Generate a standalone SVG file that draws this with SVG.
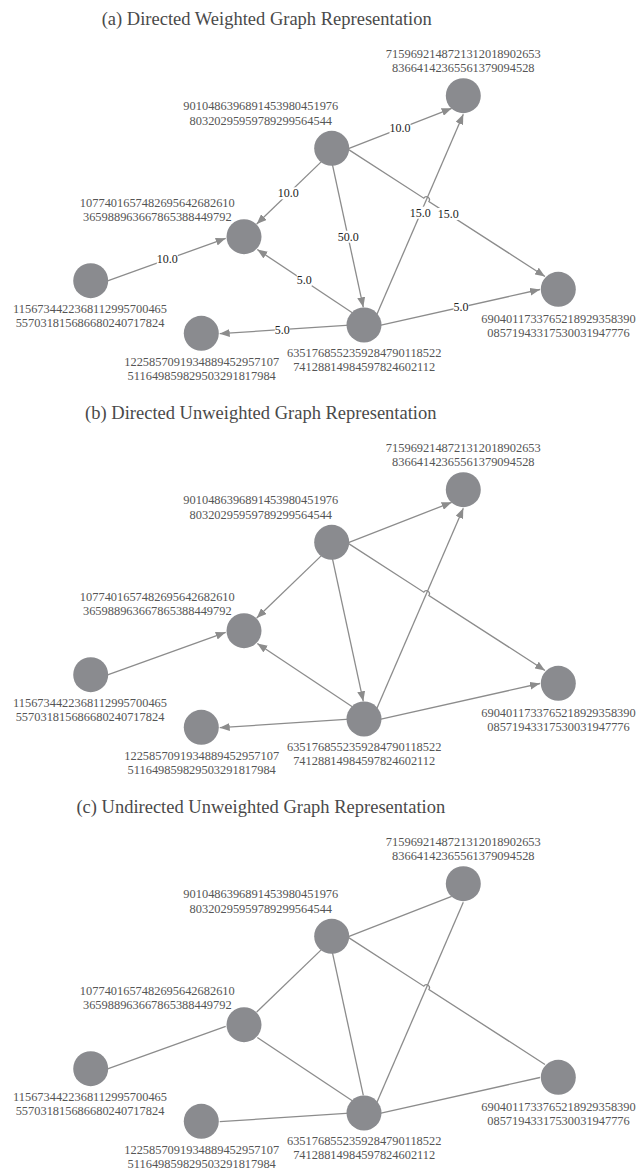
<svg xmlns="http://www.w3.org/2000/svg" width="636" height="1172" viewBox="0 0 636 1172">
<style>
.title{font-family:"Liberation Serif",serif;font-size:18.5px;fill:#4a4a4a;text-anchor:middle}
.lbl{font-family:"Liberation Serif",serif;font-size:12.4px;fill:#555;text-anchor:middle}
.node circle{fill:#8a8b8f}
.edge{stroke:#8c8c8c;stroke-width:1.3;fill:none}
.dir .edge{marker-end:url(#arr)}
.el rect{fill:#fff}
.el text{font-family:"Liberation Serif",serif;font-size:12px;fill:#222;text-anchor:middle}
</style>
<defs>
<marker id="arr" viewBox="0 0 10 8" refX="10" refY="4" markerWidth="10" markerHeight="8" orient="auto" markerUnits="userSpaceOnUse">
<path d="M0,0 L10,4 L0,8 z" fill="#8c8c8c"/>
</marker>
</defs>
<rect width="636" height="1172" fill="#fff"/>

<!-- Panel (a) -->
<g id="panel-a">
<text class="title" x="266.7" y="24.5">(a) Directed Weighted Graph Representation</text>
<g id="a-edges" class="dir">
<path class="edge" d="M346.5,149.4 L451.7,108.3"/>
<path class="edge" d="M322.2,160.9 L256.7,224"/>
<path class="edge" d="M332.1,163.1 L363.3,307.3"/>
<path class="edge" d="M347.5,148.9 L423.8,198.2 A3,3 0 0 1 428.9,201.5 L545,276.5"/>
<path class="edge" d="M376.6,315.1 L463.3,114.3"/>
<path class="edge" d="M105.5,281.7 L225.7,238.3"/>
<path class="edge" d="M352.3,312.7 L257.3,249.5"/>
<path class="edge" d="M349.7,325.1 L219.7,333.7"/>
<path class="edge" d="M378.8,325.7 L540,289.5"/>
<g class="el"><rect x="389.5" y="122.4" width="21" height="12"/><text x="400" y="132.4">10.0</text></g>
<g class="el"><rect x="277.8" y="187.3" width="21" height="12"/><text x="288.3" y="197.3">10.0</text></g>
<g class="el"><rect x="337.7" y="230.7" width="21" height="12"/><text x="348.2" y="240.7">50.0</text></g>
<g class="el"><rect x="437.8" y="208" width="21" height="12"/><text x="448.3" y="218">15.0</text></g>
<g class="el"><rect x="409.8" y="206.7" width="21" height="12"/><text x="420.3" y="216.7">15.0</text></g>
<g class="el"><rect x="156.8" y="253.2" width="21" height="12"/><text x="167.3" y="263.2">10.0</text></g>
<g class="el"><rect x="296.8" y="274.3" width="15" height="12"/><text x="304.3" y="284.3">5.0</text></g>
<g class="el"><rect x="274.8" y="323.5" width="15" height="12"/><text x="282.3" y="333.5">5.0</text></g>
<g class="el"><rect x="453.5" y="301.4" width="15" height="12"/><text x="461" y="311.4">5.0</text></g>
</g>
<g id="a-n1" class="node"><circle cx="331.7" cy="148.3" r="17.5"/><text class="lbl" x="260.8" y="109.5">9010486396891453980451976</text><text class="lbl" x="260.8" y="124.5">80320295959789299564544</text></g>
<g id="a-n2" class="node"><circle cx="244" cy="236.7" r="17.5"/><text class="lbl" x="157.3" y="207">1077401657482695642682610</text><text class="lbl" x="157.3" y="221">365988963667865388449792</text></g>
<g id="a-n3" class="node"><circle cx="463.3" cy="95.7" r="17.5"/><text class="lbl" x="463.3" y="57.5">7159692148721312018902653</text><text class="lbl" x="463.3" y="72">83664142365561379094528</text></g>
<g id="a-n4" class="node"><circle cx="90.7" cy="280.7" r="17.5"/><text class="lbl" x="90" y="312.5">1156734422368112995700465</text><text class="lbl" x="90" y="327">557031815686680240717824</text></g>
<g id="a-n5" class="node"><circle cx="201.3" cy="333.3" r="17.5"/><text class="lbl" x="201.7" y="366">1225857091934889452957107</text><text class="lbl" x="201.7" y="380">511649859829503291817984</text></g>
<g id="a-n6" class="node"><circle cx="364" cy="325" r="17.5"/><text class="lbl" x="364.2" y="357.2">6351768552359284790118522</text><text class="lbl" x="364.2" y="371.2">74128814984597824602112</text></g>
<g id="a-n7" class="node"><circle cx="558.3" cy="289.3" r="17.5"/><text class="lbl" x="558.5" y="322.5">6904011733765218929358390</text><text class="lbl" x="558.5" y="336.8">08571943317530031947776</text></g>
</g>

<!-- Panel (b) -->
<g id="panel-b" transform="translate(0,394)">
<text class="title" x="260.8" y="24.5">(b) Directed Unweighted Graph Representation</text>
<g id="b-edges" class="dir">
<path class="edge" d="M346.5,149.4 L451.7,108.3"/>
<path class="edge" d="M322.2,160.9 L256.7,224"/>
<path class="edge" d="M332.1,163.1 L363.3,307.3"/>
<path class="edge" d="M347.5,148.9 L423.8,198.2 A3,3 0 0 1 428.9,201.5 L545,276.5"/>
<path class="edge" d="M376.6,315.1 L463.3,114.3"/>
<path class="edge" d="M105.5,281.7 L225.7,238.3"/>
<path class="edge" d="M352.3,312.7 L257.3,249.5"/>
<path class="edge" d="M349.7,325.1 L219.7,333.7"/>
<path class="edge" d="M378.8,325.7 L540,289.5"/>
</g>
<g id="b-n1" class="node"><circle cx="331.7" cy="148.3" r="17.5"/><text class="lbl" x="260.8" y="109.5">9010486396891453980451976</text><text class="lbl" x="260.8" y="124.5">80320295959789299564544</text></g>
<g id="b-n2" class="node"><circle cx="244" cy="236.7" r="17.5"/><text class="lbl" x="157.3" y="207">1077401657482695642682610</text><text class="lbl" x="157.3" y="221">365988963667865388449792</text></g>
<g id="b-n3" class="node"><circle cx="463.3" cy="95.7" r="17.5"/><text class="lbl" x="463.3" y="57.5">7159692148721312018902653</text><text class="lbl" x="463.3" y="72">83664142365561379094528</text></g>
<g id="b-n4" class="node"><circle cx="90.7" cy="280.7" r="17.5"/><text class="lbl" x="90" y="312.5">1156734422368112995700465</text><text class="lbl" x="90" y="327">557031815686680240717824</text></g>
<g id="b-n5" class="node"><circle cx="201.3" cy="333.3" r="17.5"/><text class="lbl" x="201.7" y="366">1225857091934889452957107</text><text class="lbl" x="201.7" y="380">511649859829503291817984</text></g>
<g id="b-n6" class="node"><circle cx="364" cy="325" r="17.5"/><text class="lbl" x="364.2" y="357.2">6351768552359284790118522</text><text class="lbl" x="364.2" y="371.2">74128814984597824602112</text></g>
<g id="b-n7" class="node"><circle cx="558.3" cy="289.3" r="17.5"/><text class="lbl" x="558.5" y="322.5">6904011733765218929358390</text><text class="lbl" x="558.5" y="336.8">08571943317530031947776</text></g>
</g>

<!-- Panel (c) -->
<g id="panel-c" transform="translate(0,788)">
<text class="title" x="260.8" y="24.5">(c) Undirected Unweighted Graph Representation</text>
<g id="c-edges">
<path class="edge" d="M346.5,149.4 L451.7,108.3"/>
<path class="edge" d="M322.2,160.9 L256.7,224"/>
<path class="edge" d="M332.1,163.1 L363.3,307.3"/>
<path class="edge" d="M347.5,148.9 L423.8,198.2 A3,3 0 0 1 428.9,201.5 L545,276.5"/>
<path class="edge" d="M376.6,315.1 L463.3,114.3"/>
<path class="edge" d="M105.5,281.7 L225.7,238.3"/>
<path class="edge" d="M352.3,312.7 L257.3,249.5"/>
<path class="edge" d="M349.7,325.1 L219.7,333.7"/>
<path class="edge" d="M378.8,325.7 L540,289.5"/>
</g>
<g id="c-n1" class="node"><circle cx="331.7" cy="148.3" r="17.5"/><text class="lbl" x="260.8" y="109.5">9010486396891453980451976</text><text class="lbl" x="260.8" y="124.5">80320295959789299564544</text></g>
<g id="c-n2" class="node"><circle cx="244" cy="236.7" r="17.5"/><text class="lbl" x="157.3" y="207">1077401657482695642682610</text><text class="lbl" x="157.3" y="221">365988963667865388449792</text></g>
<g id="c-n3" class="node"><circle cx="463.3" cy="95.7" r="17.5"/><text class="lbl" x="463.3" y="57.5">7159692148721312018902653</text><text class="lbl" x="463.3" y="72">83664142365561379094528</text></g>
<g id="c-n4" class="node"><circle cx="90.7" cy="280.7" r="17.5"/><text class="lbl" x="90" y="312.5">1156734422368112995700465</text><text class="lbl" x="90" y="327">557031815686680240717824</text></g>
<g id="c-n5" class="node"><circle cx="201.3" cy="333.3" r="17.5"/><text class="lbl" x="201.7" y="366">1225857091934889452957107</text><text class="lbl" x="201.7" y="380">511649859829503291817984</text></g>
<g id="c-n6" class="node"><circle cx="364" cy="325" r="17.5"/><text class="lbl" x="364.2" y="357.2">6351768552359284790118522</text><text class="lbl" x="364.2" y="371.2">74128814984597824602112</text></g>
<g id="c-n7" class="node"><circle cx="558.3" cy="289.3" r="17.5"/><text class="lbl" x="558.5" y="322.5">6904011733765218929358390</text><text class="lbl" x="558.5" y="336.8">08571943317530031947776</text></g>
</g>
</svg>
